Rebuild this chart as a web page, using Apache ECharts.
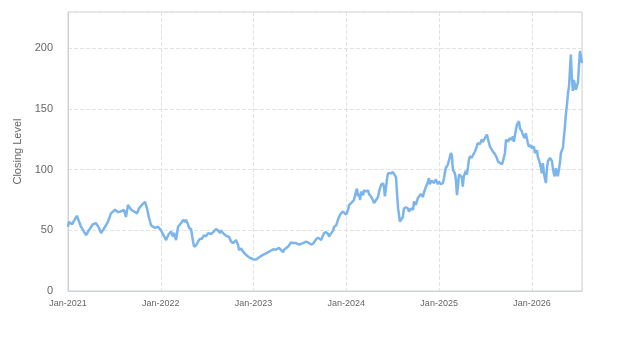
<!DOCTYPE html>
<html>
<head>
<meta charset="utf-8">
<script src="https://cdn.jsdelivr.net/npm/echarts@6/dist/echarts.min.js"></script>
<style>html,body{margin:0;padding:0;background:#fff;}#chart{width:623px;height:350px;}</style>
</head>
<body>
<div id="chart"></div>
<script>
const dates = [
'2021-01-01','2021-01-05','2021-01-09','2021-01-17','2021-01-25','2021-02-05','2021-02-21','2021-03-13','2021-03-21','2021-04-09',
'2021-04-21','2021-05-03','2021-05-11','2021-05-27','2021-06-07','2021-06-19','2021-07-05','2021-07-17','2021-08-01','2021-08-09',
'2021-08-17','2021-08-25','2021-09-06','2021-09-18','2021-09-30','2021-10-07','2021-10-23','2021-10-31','2021-11-08','2021-11-16',
'2021-11-24','2021-12-09','2021-12-21','2022-01-02','2022-01-14','2022-01-22','2022-01-30','2022-02-10','2022-02-18','2022-02-22',
'2022-03-02','2022-03-10','2022-03-22','2022-03-30','2022-04-06','2022-04-10','2022-04-18','2022-04-22','2022-04-30','2022-05-08',
'2022-05-12','2022-05-20','2022-05-28','2022-06-04','2022-06-12','2022-06-20','2022-06-28','2022-07-06','2022-07-18','2022-07-26',
'2022-08-06','2022-08-14','2022-08-22','2022-08-26','2022-09-03','2022-09-07','2022-09-15','2022-09-27','2022-10-04','2022-10-12',
'2022-10-16','2022-10-24','2022-11-01','2022-11-05','2022-11-13','2022-11-21','2022-11-25','2022-12-02','2022-12-14','2022-12-30',
'2023-01-03','2023-01-11','2023-01-23','2023-02-07','2023-02-19','2023-03-03','2023-03-19','2023-03-30','2023-04-11','2023-04-27',
'2023-05-01','2023-05-17','2023-05-28','2023-06-05','2023-06-09','2023-06-17','2023-06-29','2023-07-15','2023-07-27','2023-08-03',
'2023-08-07','2023-08-15','2023-08-23','2023-08-27','2023-09-04','2023-09-12','2023-09-16','2023-09-24','2023-10-01','2023-10-05',
'2023-10-13','2023-10-21','2023-10-25','2023-11-02','2023-11-10','2023-11-14','2023-11-22','2023-11-29','2023-12-03','2023-12-11',
'2023-12-19','2023-12-23','2023-12-31','2024-01-08','2024-01-12','2024-01-20','2024-01-27','2024-01-31','2024-02-08','2024-02-12',
'2024-02-16','2024-02-20','2024-02-24','2024-02-28','2024-03-07','2024-03-11','2024-03-19','2024-03-27','2024-03-30','2024-04-07',
'2024-04-15','2024-04-19','2024-04-27','2024-05-05','2024-05-09','2024-05-17','2024-05-25','2024-05-28','2024-06-01','2024-06-09',
'2024-06-13','2024-06-17','2024-06-25','2024-07-03','2024-07-07','2024-07-15','2024-07-19','2024-07-23','2024-07-26','2024-07-30',
'2024-08-03','2024-08-11','2024-08-15','2024-08-23','2024-08-31','2024-09-04','2024-09-12','2024-09-20','2024-09-24','2024-10-01',
'2024-10-09','2024-10-13','2024-10-21','2024-10-29','2024-11-02','2024-11-10','2024-11-18','2024-11-22','2024-11-25','2024-12-03',
'2024-12-11','2024-12-19','2024-12-27','2024-12-31','2025-01-08','2025-01-16','2025-01-20','2025-01-27','2025-02-04','2025-02-08',
'2025-02-16','2025-02-20','2025-02-24','2025-02-28','2025-03-04','2025-03-08','2025-03-12','2025-03-16','2025-03-20','2025-03-24',
'2025-03-31','2025-04-04','2025-04-08','2025-04-16','2025-04-20','2025-04-24','2025-04-28','2025-05-02','2025-05-10','2025-05-14',
'2025-05-22','2025-05-29','2025-06-02','2025-06-10','2025-06-18','2025-06-22','2025-06-30','2025-07-08','2025-07-12','2025-07-16',
'2025-07-20','2025-07-27','2025-07-31','2025-08-08','2025-08-16','2025-08-20','2025-08-28','2025-09-05','2025-09-09','2025-09-17',
'2025-09-21','2025-09-24','2025-09-28','2025-10-06','2025-10-14','2025-10-18','2025-10-22','2025-10-30','2025-11-03','2025-11-07',
'2025-11-11','2025-11-15','2025-11-22','2025-11-26','2025-12-04','2025-12-08','2025-12-16','2025-12-20','2025-12-28','2026-01-01',
'2026-01-09','2026-01-13','2026-01-21','2026-01-24','2026-01-28','2026-02-01','2026-02-05','2026-02-09','2026-02-13','2026-02-17',
'2026-02-25','2026-03-01','2026-03-05','2026-03-09','2026-03-13','2026-03-21','2026-03-24','2026-03-28','2026-04-01','2026-04-05',
'2026-04-09','2026-04-13','2026-04-17','2026-04-21','2026-04-25','2026-04-29','2026-05-03','2026-05-07','2026-05-11','2026-05-15',
'2026-05-19','2026-05-23','2026-05-27','2026-05-30','2026-06-03','2026-06-07','2026-06-11','2026-06-15','2026-06-23','2026-06-27',
'2026-07-01','2026-07-05','2026-07-09','2026-07-13','2026-07-17'
];
const closes = [
53,57,58,55,58,62,53,46,49,55,
56,52,47.7,53,57,64,67,65,66,67,
61,71,67,65.5,64,68,72,73.5,68,60,
54,52,53,50,45,42,46,49,45,48,
42,53,56,58.7,57,58.7,55,52,51,40.8,
36.6,37.5,40.8,43,43,46,45,47.7,47,48.6,
51,50,47.7,50,47.7,46.5,45.5,44.5,40.8,39.5,
40.8,42,38,33.9,35,32.5,31,29.8,27.8,26.2,
25,26,27.8,29.8,31,32.5,34.4,34,35.6,32,
34,36.6,40,39.5,38.5,39.5,38.3,39.5,40.8,42,
39.5,38.3,39,39.5,42.7,44,43.5,42,43.5,47.7,
48.6,47,44.9,47.5,50,53,54,58.7,61,64,
65.5,64,63,67,71,72.5,73.8,75,82,84.3,
78,80,75,82,79,83,82,83,80,78,
75,72.5,75,77.5,82,87.6,88.9,86,78,91.7,
97,98,97,98,97.5,93.6,80,68.3,64,57.3,
56,61,68,69,68,65.5,68,67,73.8,71,
76.6,75,80,77.5,81,86,90,93,88,91,
89,92,88,90.4,88,89,93,101.4,104,107,
113.8,112,100,99,97,91.7,79,86,96,97,
94,86,94.5,99,96,101.4,108,111,110,112,
115,119,122,121,124.8,123,126,129,128,122,
119,118,115,113,109.6,107,105.5,104.5,107,113.8,
124.8,126,123,126,124.8,127.5,123,133,137,138,
140,134,131.7,129,126,130,122,119,120,117.6,
119,113.8,116,111,110,105.5,102,97,105.5,97,
89,101,107,108.5,109.6,107,102,97,94.5,101,
99,94.5,96,105.5,113.8,116,118,127.5,135.8,146.8,
153.7,163.4,168.8,179.8,195,176,165,174,166,169,
171.7,185.4,197.8,199,188
];
const yTicks = [0, 50, 100, 150, 200];
const xTickYears = [2021, 2022, 2023, 2024, 2025, 2026];
const yMax = 230;
const axisName = 'Closing Level';

function toYear(s) {
  const d = new Date(s + 'T00:00:00Z');
  const y = d.getUTCFullYear();
  const a = Date.UTC(y, 0, 1), b = Date.UTC(y + 1, 0, 1);
  return y + (d.getTime() - a) / (b - a);
}
const seriesData = dates.map((d, i) => [toYear(d), closes[i]]);
const xMax = toYear('2026-07-17');

const chart = echarts.init(document.getElementById('chart'), null, {renderer: 'canvas'});
chart.setOption({
  animation: false,
  backgroundColor: '#ffffff',
  textStyle: {fontFamily: 'Liberation Sans, Arial, sans-serif'},
  grid: {left: 68, right: 41, top: 12, bottom: 59, show: true, borderColor: '#cdd1d9', borderWidth: 1},
  xAxis: {
    type: 'value', min: 2021, max: xMax, interval: 1,
    axisLine: {show: true, lineStyle: {color: '#cdd1d9'}},
    axisTick: {show: false},
    splitLine: {show: true, lineStyle: {color: '#e2e2e2', type: 'dashed'}},
    axisLabel: {
      color: '#666666', fontSize: 9, margin: 8, showMaxLabel: false,
      formatter: v => xTickYears.indexOf(Math.round(v)) >= 0 && Math.abs(v - Math.round(v)) < 1e-6 ? 'Jan-' + Math.round(v) : ''
    }
  },
  yAxis: {
    type: 'value', min: 0, max: yMax, interval: 50,
    name: axisName, nameLocation: 'middle', nameGap: 41,
    nameTextStyle: {color: '#666666', fontSize: 11},
    axisLine: {show: true, lineStyle: {color: '#cdd1d9'}},
    axisTick: {show: false},
    splitLine: {show: true, lineStyle: {color: '#e2e2e2', type: 'dashed'}},
    axisLabel: {
      color: '#666666', fontSize: 11, margin: 15, showMaxLabel: false,
      formatter: v => yTicks.indexOf(v) >= 0 ? String(v) : ''
    }
  },
  series: [{
    type: 'line', data: seriesData, showSymbol: false, symbol: 'none',
    lineStyle: {color: '#7cb5ec', width: 2.5},
    itemStyle: {color: '#7cb5ec'}
  }]
});
</script>
</body>
</html>
